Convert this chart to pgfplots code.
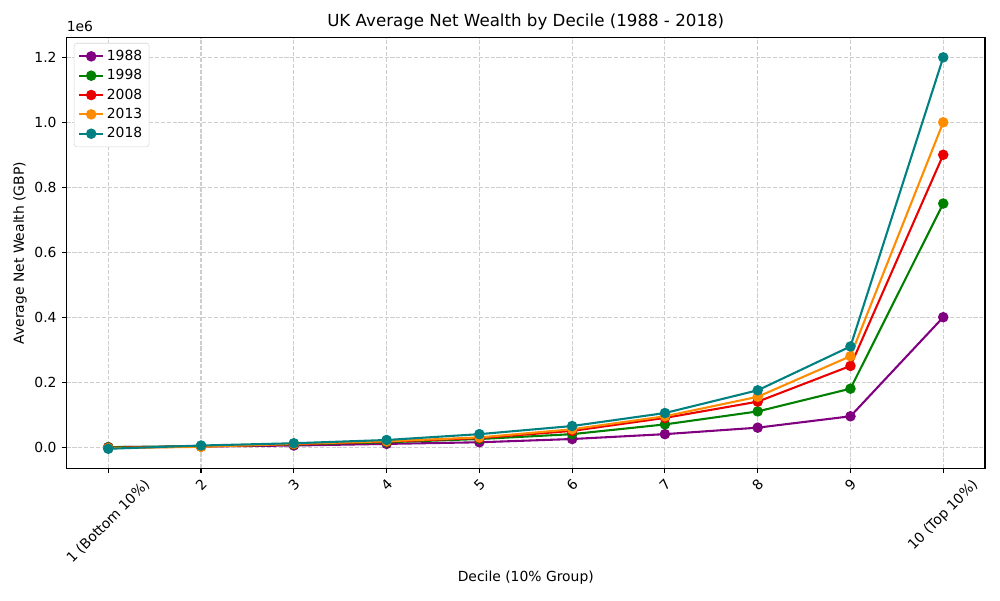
\documentclass[border=0pt]{standalone}
\usepackage{fontspec}
\setmainfont{DejaVu Sans}
\usepackage{graphicx}
\usepackage{pgfplots}
\pgfplotsset{compat=1.18}
\definecolor{cPurple}{RGB}{128,0,128}
\definecolor{cGreen}{RGB}{0,128,0}
\definecolor{cRed}{RGB}{235,0,0}
\definecolor{cOrange}{RGB}{255,140,0}
\definecolor{cTeal}{RGB}{0,128,128}
\definecolor{gridc}{RGB}{206,206,206}
\definecolor{legc}{RGB}{215,215,215}
\begin{document}
\fontsize{10pt}{12pt}\selectfont
\begin{tikzpicture}
\path (-47.9pt,-94.8pt) rectangle (672.1pt,337.2pt);
\begin{axis}[
  name=ax,
  at={(0,0)}, anchor=south west,
  scale only axis, width=661.3pt, height=310pt,
  xmin=-0.45, xmax=9.45,
  ymin=-65250, ymax=1260250,
  xtick={0,1,2,3,4,5,6,7,8,9},
  xticklabels={\rotatebox{45}{1 (Bottom 10\%)},\rotatebox{45}{2},\rotatebox{45}{3},\rotatebox{45}{4},\rotatebox{45}{5},\rotatebox{45}{6},\rotatebox{45}{7},\rotatebox{45}{8},\rotatebox{45}{9},\rotatebox{45}{10 (Top 10\%)}},
  xticklabel style={anchor=north, inner sep=0pt, yshift=-3.5pt},
  ytick={0,200000,400000,600000,800000,1000000,1200000},
  yticklabels={0.0,0.2,0.4,0.6,0.8,1.0,1.2},
  yticklabel style={anchor=east, inner sep=0pt, xshift=-3.5pt},
  scaled y ticks=false,
  tick align=outside, major tick length=3.5pt,
  tick style={black, line width=0.8pt},
  axis line style={line width=0.8pt},
  xtick pos=bottom, ytick pos=left,
  grid=major,
  grid style={gridc, dash pattern=on 2.96pt off 1.28pt, line width=0.8pt},
  title={\fontsize{12pt}{14pt}\selectfont UK Average Net Wealth by Decile (1988 - 2018)},
  title style={yshift=-4pt},
  xlabel={Decile (10\% Group)},
  ylabel={Average Net Wealth (GBP)},
  xlabel style={yshift=-1pt},
  ylabel style={yshift=2pt},
  legend pos=north west,
  legend cell align=left,
  legend style={draw=legc, rounded corners=2pt, font=\fontsize{10pt}{12pt}\selectfont, row sep=1pt, inner sep=3pt, at={(0.008,0.988)}},
  legend image code/.code={\draw[#1, mark repeat=2, mark phase=2] plot coordinates {(0cm,0cm) (0.3cm,0cm) (0.6cm,0cm)};},
  every axis plot/.append style={line width=1.5pt, mark=*, mark size=3pt},
]
\addplot[cPurple, mark options={fill=cPurple}] coordinates {(0,0) (1,2000) (2,5000) (3,10000) (4,15000) (5,25000) (6,40000) (7,60000) (8,95000) (9,400000)};
\addplot[cGreen, mark options={fill=cGreen}] coordinates {(0,0) (1,3000) (2,8000) (3,15000) (4,25000) (5,40000) (6,70000) (7,110000) (8,180000) (9,750000)};
\addplot[cRed, mark options={fill=cRed}] coordinates {(0,-2000) (1,2000) (2,9000) (3,17000) (4,28000) (5,50000) (6,90000) (7,140000) (8,250000) (9,900000)};
\addplot[cOrange, mark options={fill=cOrange}] coordinates {(0,-3000) (1,1000) (2,10000) (3,18000) (4,30000) (5,55000) (6,95000) (7,155000) (8,280000) (9,1000000)};
\addplot[cTeal, mark options={fill=cTeal}] coordinates {(0,-5000) (1,5000) (2,12000) (3,22000) (4,40000) (5,65000) (6,105000) (7,175000) (8,310000) (9,1200000)};
\legend{1988,1998,2008,2013,2018}
\end{axis}
\node[anchor=south west, inner sep=0pt] at ([yshift=4pt]ax.north west) {1e6};
\end{tikzpicture}
\end{document}
